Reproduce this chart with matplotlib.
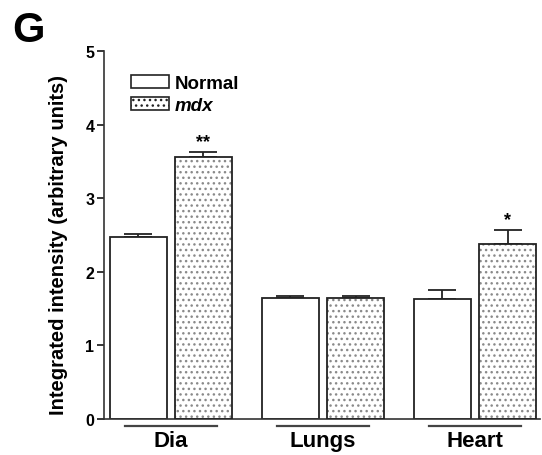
import numpy as np
import matplotlib.pyplot as plt
from matplotlib.patches import Patch

plt.rcParams['font.family'] = ['Liberation Sans', 'DejaVu Sans']

# Integrated intensity per tissue (mean and SEM)
tissues = ['Dia', 'Lungs', 'Heart']
normal_mean = [2.47, 1.64, 1.63]
normal_sem = [0.05, 0.03, 0.12]
mdx_mean = [3.56, 1.64, 2.38]
mdx_sem = [0.07, 0.03, 0.19]
mdx_sig = ['**', '', '*']
yticks = [0, 1, 2, 3, 4, 5]

fig = plt.figure(figsize=(5.42, 4.56), dpi=100)
ax = fig.add_axes([0.192, 0.079, 0.805, 0.807])

x = np.arange(len(tissues))
w = 0.375
off = 0.214

# Normal: plain white bars
ax.bar(x - off, normal_mean, w, color='white', edgecolor='#222222', linewidth=1.3, zorder=2)
ax.errorbar(x - off, normal_mean, yerr=[np.zeros(3), normal_sem], fmt='none',
            ecolor='#222222', elinewidth=1.3, capsize=10, capthick=1.3, zorder=1)

# mdx: dotted fill, outline drawn separately on top
ax.bar(x + off, mdx_mean, w, color='white', edgecolor='#8a8a8a', hatch='...', linewidth=0, zorder=2)
ax.bar(x + off, mdx_mean, w, fill=False, edgecolor='#222222', linewidth=1.3, zorder=3)
ax.errorbar(x + off, mdx_mean, yerr=[np.zeros(3), mdx_sem], fmt='none',
            ecolor='#222222', elinewidth=1.3, capsize=10, capthick=1.3, zorder=1)

for xi, m, s, sig in zip(x + off, mdx_mean, mdx_sem, mdx_sig):
    if sig:
        ax.text(xi, m + s + 0.02, sig, ha='center', va='bottom', fontsize=13, fontweight='bold')

ax.set_xlim(-0.44, 2.43)
ax.set_ylim(0, 5)
ax.set_yticks(yticks)
ax.set_yticklabels([str(t) for t in yticks], fontsize=11.5, fontweight='bold')
ax.set_xticks([])
ax.tick_params(axis='y', direction='out', length=5, width=1.1, pad=2)
for side in ['top', 'right']:
    ax.spines[side].set_visible(False)
for side in ['left', 'bottom']:
    ax.spines[side].set_linewidth(1.2)
    ax.spines[side].set_color('#333333')

ax.set_ylabel('Integrated intensity (arbitrary units)', fontsize=14.5, fontweight='bold')
ax.yaxis.set_label_coords(-0.083, 0.475)

# group underlines and names below the axis
for xi, name in zip(x, tissues):
    ax.plot([xi - 0.30, xi + 0.30], [-0.09, -0.09], color='#444444', lw=1.6, clip_on=False)
    ax.text(xi, -0.15, name, ha='center', va='top', fontsize=16, fontweight='bold')

# legend
handles = [Patch(facecolor='white', edgecolor='#222222', linewidth=1.2, label='Normal'),
           Patch(facecolor='white', edgecolor='#222222', hatch='...', linewidth=1.2, label='mdx')]
leg = ax.legend(handles=handles, loc='upper left', bbox_to_anchor=(0.045, 0.955),
                frameon=False, handlelength=2.0, handleheight=0.7, handletextpad=0.3,
                labelspacing=0.25, borderaxespad=0, prop={'weight': 'bold', 'size': 13.5})
leg.get_texts()[1].set_style('italic')

fig.text(0.022, 0.975, 'G', fontsize=30, fontweight='bold', va='top', ha='left')

fig.savefig('out.png', dpi=100)
